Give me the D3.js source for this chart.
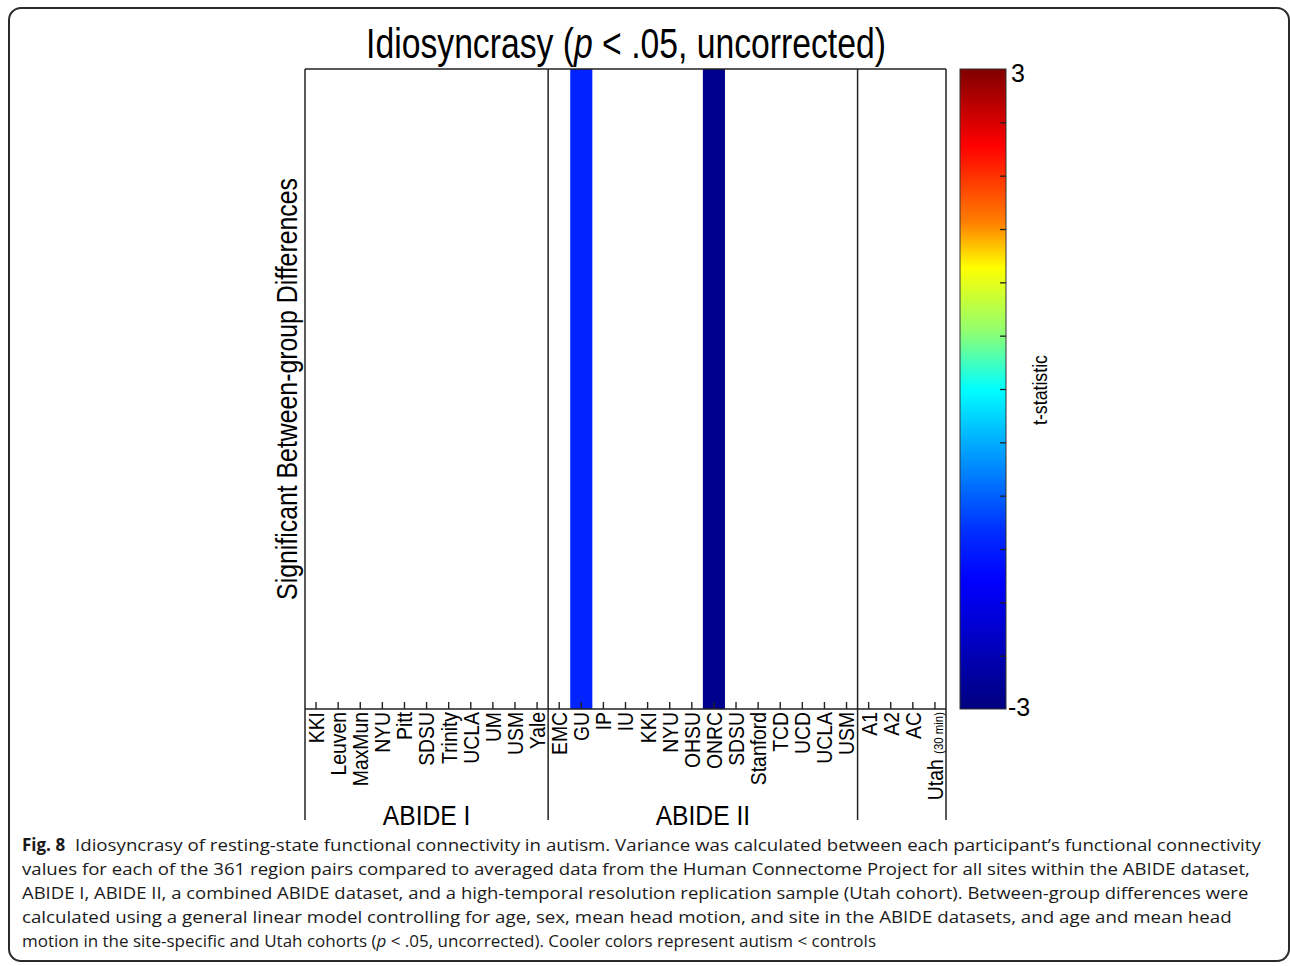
<!DOCTYPE html>
<html>
<head>
<meta charset="utf-8">
<script src="https://cdn.jsdelivr.net/npm/d3@7"></script>
<style>
  body { margin: 0; background: #fff; }
  svg { display: block; }
</style>
</head>
<body>
<div id="chart"></div>
<script>
// sites along the x axis, one column each
const abide1Sites = ['KKI', 'Leuven', 'MaxMun', 'NYU', 'Pitt', 'SDSU', 'Trinity', 'UCLA', 'UM', 'USM', 'Yale']
const abide2Sites = ['EMC', 'GU', 'IP', 'IU', 'KKI', 'NYU', 'OHSU', 'ONRC', 'SDSU', 'Stanford', 'TCD', 'UCD', 'UCLA', 'USM']
const utahSites = ['A1', 'A2', 'AC', 'Utah (30 min)']
const groupNames = ['ABIDE I', 'ABIDE II', 'Utah']
const groupLabels = ['ABIDE I', 'ABIDE II', '']

// significant between-group differences (t-statistic)
const sigSites = ['ABIDE II|GU', 'ABIDE II|ONRC']
const sigT = [-1.45, -2.85]

// colour bar
const cbDomain = [-3, 3]
const cbTicks = [-2.5, -2, -1.5, -1, -0.5, 0, 0.5, 1, 1.5, 2, 2.5]
const cbEndLabels = ['3', '-3']
const cmapVals = [-3, -1.8, -1.32, -0.48, 0, 0.54, 1.14, 1.56, 2.28, 3]
const cmapCols = ['#00007f', '#0000ff', '#0030ff', '#00b0ff', '#00ffff', '#90ff70', '#ffff00', '#ff7f00', '#ff0000', '#7f0000']

const captionLines = [
  'Idiosyncrasy of resting-state functional connectivity in autism. Variance was calculated between each participant\u2019s functional connectivity',
  'values for each of the 361 region pairs compared to averaged data from the Human Connectome Project for all sites within the ABIDE dataset,',
  'ABIDE I, ABIDE II, a combined ABIDE dataset, and a high-temporal resolution replication sample (Utah cohort). Between-group differences were',
  'calculated using a general linear model controlling for age, sex, mean head motion, and site in the ABIDE datasets, and age and mean head'
]

const W = 1290
const H = 966
const plot = { x0: 305, x1: 946, y0: 69, y1: 709, bracket: 820 }
const cb = { x0: 960, x1: 1006 }
const font = 'Liberation Sans, Arial, sans-serif'
const capFont = 'Open Sans, Noto Sans, sans-serif'

const cols = [].concat(
  abide1Sites.map(s => ({ group: groupNames[0], site: s })),
  abide2Sites.map(s => ({ group: groupNames[1], site: s })),
  utahSites.map(s => ({ group: groupNames[2], site: s }))
)
cols.forEach(d => { d.key = d.group + '|' + d.site })

const x = d3.scaleBand().domain(cols.map(d => d.key)).range([plot.x0, plot.x1])
const cmap = d3.scaleLinear().domain(cmapVals).range(cmapCols)
const yCb = d3.scaleLinear().domain(cbDomain).range([plot.y1, plot.y0])

const svg = d3.select('#chart').append('svg')
  .attr('width', W)
  .attr('height', H)

// horizontal factor that makes a text (drawn at 0,0) span w pixels
function fit (sel, w) {
  const bw = sel.node().getBBox().width
  return w / bw
}

// outer figure frame
svg.append('rect')
  .attr('x', 9).attr('y', 8)
  .attr('width', 1280).attr('height', 953)
  .attr('rx', 12)
  .attr('fill', 'none')
  .attr('stroke', '#2b2b2b')
  .attr('stroke-width', 2)

// significant bars
svg.selectAll('rect.sig')
  .data(sigSites.map((k, i) => ({ key: k, t: sigT[i] })))
  .join('rect')
  .attr('class', 'sig')
  .attr('x', d => x(d.key))
  .attr('width', x.bandwidth())
  .attr('y', plot.y0)
  .attr('height', plot.y1 - plot.y0)
  .attr('fill', d => cmap(d.t))

// x axis with inward ticks
const sx = 0.88
const xAxis = d3.axisBottom(x)
  .tickSizeInner(-7)
  .tickSizeOuter(0)
  .tickFormat(k => k.split('|')[1])
const gx = svg.append('g')
  .attr('transform', `translate(0,${plot.y1})`)
  .call(xAxis)
  .attr('font-family', font)
  .attr('font-size', 22)
gx.select('.domain').remove()
gx.selectAll('.tick line').attr('stroke', '#222').attr('stroke-width', 1.4)
gx.selectAll('.tick text')
  .attr('transform', `rotate(-90) scale(${sx},1)`)
  .attr('x', -3 / sx)
  .attr('y', 0)
  .attr('dy', '0.36em')
  .attr('text-anchor', 'end')
  .attr('fill', '#000')
gx.selectAll('.tick text')
  .filter(function () { return d3.select(this).text() === 'Utah (30 min)' })
  .text('')
  .call(t => {
    t.append('tspan').text('Utah ')
    t.append('tspan').attr('font-size', 13).text('(30 min)')
  })

// plot box and group brackets
svg.append('line')
  .attr('x1', plot.x0).attr('x2', plot.x1)
  .attr('y1', plot.y0).attr('y2', plot.y0)
  .attr('stroke', '#222').attr('stroke-width', 1.5)
svg.append('line')
  .attr('x1', plot.x0).attr('x2', plot.x1)
  .attr('y1', plot.y1).attr('y2', plot.y1)
  .attr('stroke', '#222').attr('stroke-width', 1.5)
const groupEdges = groupNames.map(g => x(cols.find(d => d.group === g).key)).concat([plot.x1])
svg.selectAll('line.bracket')
  .data(groupEdges)
  .join('line')
  .attr('class', 'bracket')
  .attr('x1', d => d).attr('x2', d => d)
  .attr('y1', plot.y0).attr('y2', plot.bracket)
  .attr('stroke', '#222').attr('stroke-width', 1.5)

// group labels
groupLabels.forEach((lab, i) => {
  if (!lab) return
  const cx = (groupEdges[i] + groupEdges[i + 1]) / 2
  svg.append('text')
    .attr('transform', `translate(${cx},825) scale(0.88,1)`)
    .attr('text-anchor', 'middle')
    .attr('font-family', font)
    .attr('font-size', 28)
    .attr('fill', '#000')
    .text(lab)
})

// title
const title = svg.append('text')
  .attr('text-anchor', 'middle')
  .attr('font-family', font)
  .attr('font-size', 43)
  .attr('fill', '#000')
title.append('tspan').text('Idiosyncrasy (')
title.append('tspan').attr('font-style', 'italic').text('p')
title.append('tspan').text(' < .05, uncorrected)')
title.attr('transform', `translate(626,58) scale(${fit(title, 520)},1)`)

// y axis label
const ylab = svg.append('text')
  .attr('text-anchor', 'middle')
  .attr('dy', '0.35em')
  .attr('font-family', font)
  .attr('font-size', 29)
  .attr('fill', '#000')
  .text('Significant Between-group Differences')
ylab.attr('transform', `translate(287,389) rotate(-90) scale(${fit(ylab, 422)},1)`)

// colour bar
const grad = svg.append('defs').append('linearGradient')
  .attr('id', 'jet')
  .attr('x1', 0).attr('x2', 0).attr('y1', 1).attr('y2', 0)
grad.selectAll('stop')
  .data(cmapVals)
  .join('stop')
  .attr('offset', d => (d - cbDomain[0]) / (cbDomain[1] - cbDomain[0]))
  .attr('stop-color', d => cmap(d))
svg.append('rect')
  .attr('x', cb.x0).attr('y', plot.y0)
  .attr('width', cb.x1 - cb.x0).attr('height', plot.y1 - plot.y0)
  .attr('fill', 'url(#jet)')
  .attr('stroke', '#333').attr('stroke-width', 1)

const gcb = svg.append('g')
  .attr('transform', `translate(${cb.x1},0)`)
  .call(d3.axisRight(yCb).tickValues(cbTicks).tickSize(-6).tickFormat(''))
gcb.select('.domain').remove()
gcb.selectAll('.tick line').attr('stroke', '#222').attr('stroke-width', 1.3)

svg.selectAll('text.cblab')
  .data(cbEndLabels)
  .join('text')
  .attr('class', 'cblab')
  .attr('x', (d, i) => i === 0 ? 1011 : 1008)
  .attr('y', (d, i) => yCb(+d) + (i === 0 ? 4 : -2))
  .attr('dy', '0.36em')
  .attr('font-family', font)
  .attr('font-size', 25)
  .attr('fill', '#000')
  .text(d => d)

const tstat = svg.append('text')
  .attr('text-anchor', 'middle')
  .attr('dy', '0.35em')
  .attr('font-family', font)
  .attr('font-size', 20)
  .attr('fill', '#000')
  .text('t-statistic')
tstat.attr('transform', `translate(1040,390) rotate(-90) scale(${fit(tstat, 70)},1)`)

// caption
const capY = [851, 875, 899, 923, 947]
const capW = [1187, 1229, 1227, 1211]
svg.append('text')
  .attr('x', 22).attr('y', capY[0])
  .attr('font-family', capFont)
  .attr('font-size', 17)
  .attr('font-weight', 'bold')
  .attr('fill', '#1a1a1a')
  .text('Fig. 8')
captionLines.forEach((line, i) => {
  const x0 = i === 0 ? 75 : 22
  const t = svg.append('text')
    .attr('font-family', capFont)
    .attr('font-size', 17)
    .attr('fill', '#1a1a1a')
    .text(line)
  t.attr('transform', `translate(${x0},${capY[i]}) scale(${fit(t, capW[i])},1)`)
})
const last = svg.append('text')
  .attr('x', 22).attr('y', capY[4])
  .attr('font-family', capFont)
  .attr('font-size', 17)
  .attr('fill', '#1a1a1a')
last.append('tspan').text('motion in the site-specific and Utah cohorts (')
last.append('tspan').attr('font-style', 'italic').text('p')
last.append('tspan').text(' < .05, uncorrected). Cooler colors represent autism < controls')
</script>
</body>
</html>
